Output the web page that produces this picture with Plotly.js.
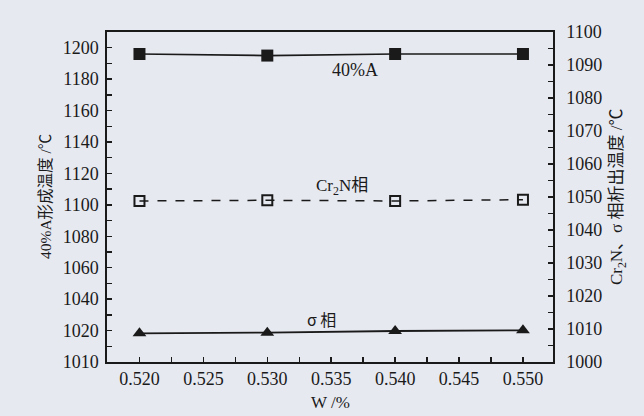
<!DOCTYPE html>
<html>
<head>
<meta charset="utf-8">
<script src="https://cdn.plot.ly/plotly-3.0.1.min.js"></script>
<style>
  html, body { margin: 0; padding: 0; background: rgb(231,233,241); }
  #chart { width: 644px; height: 416px; }
</style>
</head>
<body>
<div id="chart"></div>
<script>
// W content (%)
const wContent = [0.520, 0.530, 0.540, 0.550];
// 40%A formation temperature (left axis, degC)
const tempA40 = [1196, 1195, 1196, 1196];
// Cr2N precipitation temperature (right axis, degC)
const tempCr2N = [1048.8, 1049.0, 1048.8, 1049.2];
// sigma precipitation temperature (right axis, degC)
const tempSigma = [1008.7, 1008.9, 1009.4, 1009.6];

// axis tick labels
const xTickVals = [0.520, 0.525, 0.530, 0.535, 0.540, 0.545, 0.550];
const xTickText = ["0.520", "0.525", "0.530", "0.535", "0.540", "0.545", "0.550"];
const yLeftTickVals = [1000, 1020, 1040, 1060, 1080, 1100, 1120, 1140, 1160, 1180, 1200];
const yLeftTickText = ["1010", "1020", "1040", "1060", "1080", "1100", "1120", "1140", "1160", "1180", "1200"];
const yRightTickVals = [1000, 1010, 1020, 1030, 1040, 1050, 1060, 1070, 1080, 1090, 1100];

const serif = "'Liberation Serif', 'Times New Roman', serif";
const mixed = "'Liberation Serif', 'Noto Sans CJK SC', serif";
const ink = "#1a1a1a";

const traces = [
  {
    x: wContent, y: tempA40, type: "scatter", mode: "lines+markers",
    line: {color: ink, width: 1.7},
    marker: {symbol: "square", size: 12, color: ink},
    yaxis: "y", name: "40%A"
  },
  {
    x: wContent, y: tempCr2N, type: "scatter", mode: "lines+markers",
    line: {color: ink, width: 1.5, dash: "dash"},
    marker: {symbol: "square-open", size: 10, color: ink, line: {width: 2, color: ink}},
    yaxis: "y2", name: "Cr2N"
  },
  {
    x: wContent, y: tempSigma, type: "scatter", mode: "lines+markers",
    line: {color: ink, width: 1.8},
    marker: {symbol: "triangle-up", size: 12, color: ink},
    yaxis: "y2", name: "sigma"
  }
];

const axisCommon = {
  showgrid: false, zeroline: false,
  showline: true, linecolor: ink, linewidth: 1.7,
  ticks: "inside", ticklen: 5, tickwidth: 1.5, tickcolor: ink,
  tickfont: {family: serif, size: 18, color: ink}
};

const layout = {
  width: 644, height: 416,
  margin: {l: 107, r: 91, t: 32, b: 54},
  paper_bgcolor: "rgb(231,233,241)",
  plot_bgcolor: "rgb(231,233,241)",
  showlegend: false,
  xaxis: Object.assign({}, axisCommon, {
    range: [0.51746, 0.55235],
    tickmode: "array", tickvals: xTickVals, ticktext: xTickText,
    mirror: true,
    minor: {dtick: 0.0025, tick0: 0.52, ticks: "inside", ticklen: 5, tickwidth: 1.5, tickcolor: ink}
  }),
  yaxis: Object.assign({}, axisCommon, {
    range: [1000, 1210],
    tickmode: "array", tickvals: yLeftTickVals, ticktext: yLeftTickText,
    ticklabelstandoff: 3,
    minor: {dtick: 10, tick0: 1000, ticks: "inside", ticklen: 5, tickwidth: 1.5, tickcolor: ink}
  }),
  yaxis2: Object.assign({}, axisCommon, {
    overlaying: "y", side: "right",
    range: [1000, 1100],
    tickmode: "array", tickvals: yRightTickVals,
    ticklabelstandoff: 8,
    minor: {dtick: 5, tick0: 1000, ticks: "inside", ticklen: 5, tickwidth: 1.5, tickcolor: ink}
  }),
  annotations: [
    {text: "40%A", xref: "paper", yref: "paper", x: 0.556, y: 0.885, xanchor: "center", yanchor: "middle",
     showarrow: false, font: {family: serif, size: 18, color: ink}},
    {text: "Cr<sub>2</sub>N相", xref: "paper", yref: "paper", x: 0.527, y: 0.530, xanchor: "center", yanchor: "middle",
     showarrow: false, font: {family: mixed, size: 17, color: ink}},
    {text: "σ 相", xref: "paper", yref: "paper", x: 0.482, y: 0.130, xanchor: "center", yanchor: "middle",
     showarrow: false, font: {family: "'Noto Sans CJK SC', sans-serif", size: 16, color: ink}},
    {text: "40%A形成温度 /℃", xref: "paper", yref: "paper", x: -0.139, y: 0.5, xanchor: "center", yanchor: "middle",
     textangle: -90, showarrow: false, font: {family: mixed, size: 15.5, color: ink}},
    {text: "Cr<sub>2</sub>N、σ 相析出温度 /℃", xref: "paper", yref: "paper", x: 1.146, y: 0.5, xanchor: "center", yanchor: "middle",
     textangle: -90, showarrow: false, font: {family: mixed, size: 17, color: ink}},
    {text: "W /%", xref: "paper", yref: "paper", x: 0.5, y: -0.124, xanchor: "center", yanchor: "middle",
     showarrow: false, font: {family: serif, size: 17, color: ink}}
  ]
};

Plotly.newPlot("chart", traces, layout, {displayModeBar: false, staticPlot: true});
</script>
</body>
</html>
